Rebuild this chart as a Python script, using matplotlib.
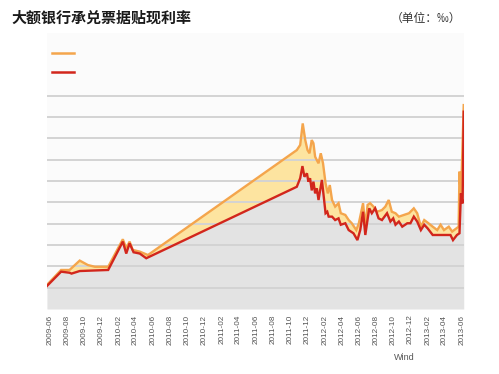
import matplotlib
matplotlib.use("Agg")
import matplotlib.pyplot as plt
import matplotlib.dates as mdates
import pandas as pd
import numpy as np
from matplotlib.lines import Line2D

# ---- data (values in ‰) ----
red_dates = ["2009-05-22","2009-07-11","2009-08-10","2009-08-17","2009-09-15","2009-12-25",
             "2010-02-15","2010-02-27","2010-03-11","2010-03-25","2010-04-16","2010-05-09",
             "2011-10-25","2011-11-06","2011-11-14","2011-11-21","2011-11-30","2011-12-05",
             "2011-12-11","2011-12-17","2011-12-23","2011-12-29","2012-01-04","2012-01-10",
             "2012-01-22","2012-02-04","2012-02-10","2012-02-15","2012-02-27","2012-03-09",
             "2012-03-21","2012-03-29","2012-04-14","2012-04-26","2012-05-13","2012-05-27",
             "2012-06-06","2012-06-16","2012-06-24","2012-06-30","2012-07-08","2012-07-17",
             "2012-07-29","2012-08-10","2012-08-22","2012-09-09","2012-09-21","2012-10-01",
             "2012-10-09","2012-10-21","2012-11-02","2012-11-20","2012-12-01","2012-12-13",
             "2012-12-25","2013-01-07","2013-01-19","2013-01-31","2013-02-18","2013-04-22",
             "2013-05-01","2013-05-15","2013-05-24","2013-05-29","2013-06-04","2013-06-08"]
red_values = [1.08,1.75,1.70,1.66,1.78,1.83,
              3.16,2.60,3.08,2.66,2.60,2.38,
              5.73,6.13,6.70,6.20,6.36,5.97,
              6.13,5.56,5.97,5.42,5.66,5.11,
              6.05,4.49,4.56,4.33,4.33,4.17,
              4.25,3.95,4.02,3.70,3.55,3.23,
              3.70,4.56,3.47,4.02,4.72,4.49,
              4.72,4.25,4.17,4.49,4.10,4.25,
              3.95,4.10,3.86,4.02,4.02,4.33,
              4.10,3.70,3.95,3.78,3.47,3.47,
              3.23,3.47,3.55,5.42,4.95,9.25]

orange_dates = ["2009-05-22","2009-07-11","2009-08-10","2009-09-15","2009-10-14","2009-11-08",
                "2009-12-25","2010-02-15","2010-02-27","2010-03-11","2010-03-22","2010-04-16",
                "2010-05-15","2011-10-25","2011-11-06","2011-11-15","2011-11-24","2011-12-02",
                "2011-12-09","2011-12-17","2011-12-23","2011-12-29","2012-01-04","2012-01-10",
                "2012-01-18","2012-01-26","2012-02-04","2012-02-12","2012-02-19","2012-02-27",
                "2012-03-09","2012-03-21","2012-03-29","2012-04-14","2012-04-26","2012-05-07",
                "2012-05-23","2012-06-01","2012-06-16","2012-06-24","2012-07-02","2012-07-11",
                "2012-07-23","2012-08-05","2012-08-22","2012-09-03","2012-09-15","2012-09-26",
                "2012-10-09","2012-10-21","2012-11-08","2012-11-26","2012-12-13","2012-12-25",
                "2013-01-07","2013-01-19","2013-01-31","2013-02-18","2013-03-06","2013-03-18",
                "2013-03-30","2013-04-16","2013-04-28","2013-05-13","2013-05-21","2013-05-24",
                "2013-05-29","2013-06-08"]
orange_values = [1.13,1.83,1.83,2.27,2.06,1.98,
                 1.98,3.27,2.85,3.16,2.77,2.69,
                 2.53,7.45,7.69,8.70,7.92,7.45,
                 7.30,7.92,7.77,7.14,6.98,6.83,
                 7.30,6.83,5.89,5.42,5.81,5.11,
                 4.80,4.96,4.49,4.41,4.17,4.02,
                 3.70,4.02,4.96,3.86,4.88,4.96,
                 4.80,4.56,4.64,4.80,5.11,4.56,
                 4.49,4.33,4.41,4.49,4.72,4.49,
                 3.86,4.17,4.05,3.86,3.70,3.95,
                 3.70,3.86,3.63,3.78,3.86,6.44,
                 5.11,9.56]

tick_labels = ["2009-06","2009-08","2009-10","2009-12","2010-02","2010-04","2010-06",
               "2010-08","2010-10","2010-12","2011-02","2011-04","2011-06","2011-08",
               "2011-10","2011-12","2012-02","2012-04","2012-06","2012-08","2012-10",
               "2012-12","2013-02","2013-04","2013-06"]

title = "大额银行承兑票据贴现利率"
unit = "（单位：‰）"
source = "Wind"

# ---- styling ----
C_ORANGE = "#f4a54c"
C_RED = "#d2261c"
C_YELLOW = "#fde4a0"
C_GRAY = "#e3e3e3"
C_GRID = "#d3d3d3"

W, H = 499, 374
fig = plt.figure(figsize=(W/100, H/100), dpi=100)
fig.patch.set_facecolor("white")

ax = fig.add_axes([47/W, (H-309)/H, (464-47)/W, (309-33)/H])
ax.set_facecolor("#fbfbfb")

xr = mdates.date2num(pd.to_datetime(red_dates))
xo = mdates.date2num(pd.to_datetime(orange_dates))
yr = np.array(red_values)
yo = np.array(orange_values)

# fills
ax.fill_between(xr, yr, 0, color=C_GRAY, lw=0, zorder=1)
ax.fill(np.concatenate([xo, xr[::-1]]), np.concatenate([yo, yr[::-1]]),
        color=C_YELLOW, lw=0, zorder=1.1)

for v in range(1, 11):
    ax.axhline(v, color=C_GRID, lw=1.4, zorder=1.5)

ax.plot(xo, yo, color=C_ORANGE, lw=1.7, zorder=3, solid_joinstyle="miter")
ax.plot(xr, yr, color=C_RED, lw=1.7, zorder=4, solid_joinstyle="miter")

ax.set_xlim(xr[0], mdates.date2num(pd.Timestamp("2013-06-09")))
ax.set_ylim(0, (309-33)/21.33)

ticks = mdates.date2num(pd.to_datetime([t + "-01" for t in tick_labels]))
ax.set_xticks(ticks)
ax.set_xticklabels(tick_labels, rotation=90, fontsize=5.9, color="#555555",
                   family="Liberation Sans", va="top")
ax.tick_params(axis="x", length=0, pad=4)
ax.set_yticks([])
for s in ax.spines.values():
    s.set_visible(False)

# legend (lines only, no labels)
handles = [Line2D([], [], color=C_ORANGE, lw=1.8), Line2D([], [], color=C_RED, lw=1.8)]
leg = ax.legend(handles, ["", ""], loc="upper left", bbox_to_anchor=(-0.012, 0.98),
                frameon=False, handlelength=2.0, fontsize=8, labelspacing=0.85,
                handletextpad=0)

fig.text(11/W, 1-18/H, title, fontsize=10.8, fontweight="bold", color="#1a1a1a",
         family=["Noto Sans CJK SC", "DejaVu Sans"], va="center", ha="left")
fig.text(461/W, 1-18/H, unit, fontsize=8.5, color="#333333",
         family=["Noto Sans CJK SC", "DejaVu Sans"], va="center", ha="right")
fig.text(404/W, 1-358/H, source, fontsize=6.5, color="#555555",
         family="Liberation Sans", va="center", ha="center")

fig.savefig("out.png", dpi=100)
